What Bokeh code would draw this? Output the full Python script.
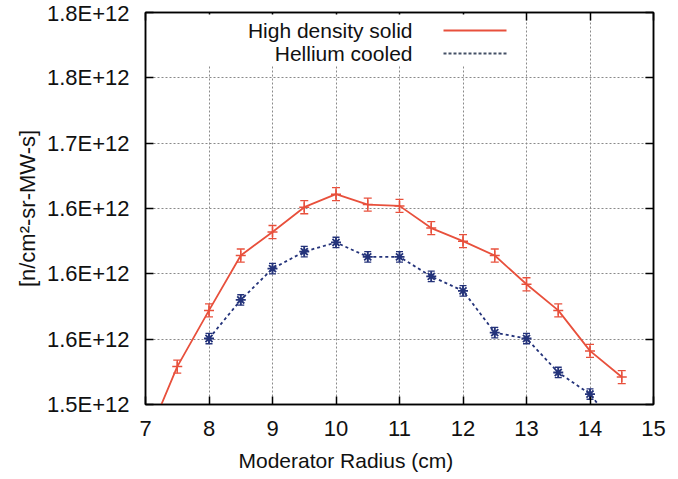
from bokeh.plotting import figure
from bokeh.models import (ColumnDataSource, FixedTicker, LinearAxis, Whisker, TeeHead,
                          Label, BoxAnnotation, Arrow, Range1d, Title)
from bokeh.embed import file_html
from bokeh.resources import INLINE

# ---- data ----
radius_solid = [7.0, 7.5, 8.0, 8.5, 9.0, 9.5, 10.0, 10.5, 11.0, 11.5, 12.0, 12.5, 13.0, 13.5, 14.0, 14.5]
flux_solid = [1.471e12, 1.529e12, 1.572e12, 1.614e12, 1.632e12, 1.651e12, 1.661e12, 1.653e12,
              1.652e12, 1.635e12, 1.625e12, 1.614e12, 1.592e12, 1.572e12, 1.541e12, 1.521e12]
err_solid = [0.005e12] * 16

radius_he = [8.0, 8.5, 9.0, 9.5, 10.0, 10.5, 11.0, 11.5, 12.0, 12.5, 13.0, 13.5, 14.0, 14.5]
flux_he = [1.5505e12, 1.580e12, 1.604e12, 1.617e12, 1.624e12, 1.613e12, 1.613e12, 1.598e12,
           1.587e12, 1.555e12, 1.5505e12, 1.5245e12, 1.508e12, 1.477e12]
err_he = [0.004e12] * 14

x_ticks = [7, 8, 9, 10, 11, 12, 13, 14, 15]
y_ticks = [1.50e12, 1.55e12, 1.60e12, 1.65e12, 1.70e12, 1.75e12, 1.80e12]
y_tick_labels = ["1.5E+12", "1.6E+12", "1.6E+12", "1.6E+12", "1.7E+12", "1.8E+12", "1.8E+12"]

series_names = ["High density solid", "Hellium cooled"]
x_title = "Moderator Radius (cm)"
y_title = "[n/cm\u00b2-sr-MW-s]"

RED = "#e8503c"
BLUE = "#24337a"
FONT = "Liberation Sans"
TXT = "#111111"

p = figure(width=670, height=479, output_backend="svg", toolbar_location=None,
           x_range=Range1d(7, 15), y_range=Range1d(1.5e12, 1.8e12),
           min_border_left=145, min_border_right=17, min_border_top=12, min_border_bottom=75)
p.outline_line_color = "black"
p.outline_line_width = 1.5
p.background_fill_color = "white"
p.border_fill_color = "white"

# grid
for g in (p.xgrid, p.ygrid):
    g.grid_line_color = "#8a8a8a"
    g.grid_line_dash = "2 2"
    g.grid_line_width = 1
p.xgrid.ticker = FixedTicker(ticks=x_ticks)
p.ygrid.ticker = FixedTicker(ticks=y_ticks)

# axes
p.xaxis.ticker = FixedTicker(ticks=x_ticks)
p.yaxis.ticker = FixedTicker(ticks=y_ticks)
p.yaxis.major_label_overrides = {t: l for t, l in zip(y_ticks, y_tick_labels)}
for ax in (p.xaxis[0], p.yaxis[0]):
    ax.major_tick_in = 8
    ax.major_tick_out = 0
    ax.minor_tick_in = 0
    ax.minor_tick_out = 0
    ax.axis_line_color = "black"
    ax.axis_line_width = 1.5
    ax.major_tick_line_width = 1.5
    ax.major_label_text_font = FONT
    ax.major_label_text_font_size = "22px"
    ax.major_label_text_color = TXT
    ax.axis_label_text_font = FONT
    ax.axis_label_text_font_size = "22px"
    ax.axis_label_text_font_style = "normal"
    ax.axis_label_text_color = TXT
p.yaxis.major_label_standoff = 16
p.xaxis.major_label_standoff = 16
p.yaxis.axis_label = y_title
p.yaxis.axis_label_standoff = 4

# mirror axes (ticks only)
for side, ticks in (("right", y_ticks), ("above", x_ticks)):
    ax = LinearAxis(ticker=FixedTicker(ticks=ticks),
                    major_label_overrides={t: "" for t in ticks},
                    major_tick_in=8, major_tick_out=0,
                    minor_tick_in=0, minor_tick_out=0, axis_line_width=1.5,
                    major_tick_line_width=1.5, major_label_standoff=0)
    p.add_layout(ax, side)

src_s = ColumnDataSource(dict(x=radius_solid, y=flux_solid,
                              lo=[a - b for a, b in zip(flux_solid, err_solid)],
                              hi=[a + b for a, b in zip(flux_solid, err_solid)]))
src_h = ColumnDataSource(dict(x=radius_he, y=flux_he,
                              lo=[a - b for a, b in zip(flux_he, err_he)],
                              hi=[a + b for a, b in zip(flux_he, err_he)]))

# legend background (gnuplot key box, no border)
p.add_layout(BoxAnnotation(left=55, right=370, top=390, bottom=339,
                           left_units="screen", right_units="screen",
                           top_units="screen", bottom_units="screen",
                           fill_color="white", fill_alpha=1, line_alpha=0, level="guide"))

p.line("x", "y", source=src_s, line_color=RED, line_width=1.8)
p.line("x", "y", source=src_h, line_color=BLUE, line_width=1.8, line_dash="3 3")

p.add_layout(Whisker(source=src_s, base="x", lower="lo", upper="hi", line_color=RED, line_width=1.3,
                     upper_head=TeeHead(size=8, line_color=RED, line_width=1.3),
                     lower_head=TeeHead(size=8, line_color=RED, line_width=1.3)))
p.add_layout(Whisker(source=src_h, base="x", lower="lo", upper="hi", line_color=BLUE, line_width=1.3,
                     upper_head=TeeHead(size=7, line_color=BLUE, line_width=1.3),
                     lower_head=TeeHead(size=7, line_color=BLUE, line_width=1.3)))
p.scatter("x", "y", source=src_s, marker="cross", size=10, line_color=RED, line_width=1.5)
p.scatter("x", "y", source=src_h, marker="asterisk", size=10, line_color=BLUE, line_width=1.8)

# legend entries (gnuplot style: text then sample line)
for i, (name, col, dash) in enumerate(zip(series_names, [RED, "#445066"], ["solid", "3 2"])):
    yy = 374 - i * 23
    p.add_layout(Label(x=267, y=yy, x_units="screen", y_units="screen", text=name,
                       text_align="right", text_baseline="middle", text_font=FONT,
                       text_font_size="21px", text_color=TXT))
    p.add_layout(Arrow(x_start=298, y_start=yy, x_end=361, y_end=yy,
                       start_units="screen", end_units="screen", end=None, start=None,
                       line_color=col, line_width=1.8, line_dash=dash))

# x title (offset toward the left like the original)
p.add_layout(Title(text=x_title, align="left", offset=93, text_font=FONT,
                   text_font_size="21px", text_font_style="normal", text_color=TXT,
                   standoff=16), "below")

open("out.html", "w").write(file_html(p, INLINE))
